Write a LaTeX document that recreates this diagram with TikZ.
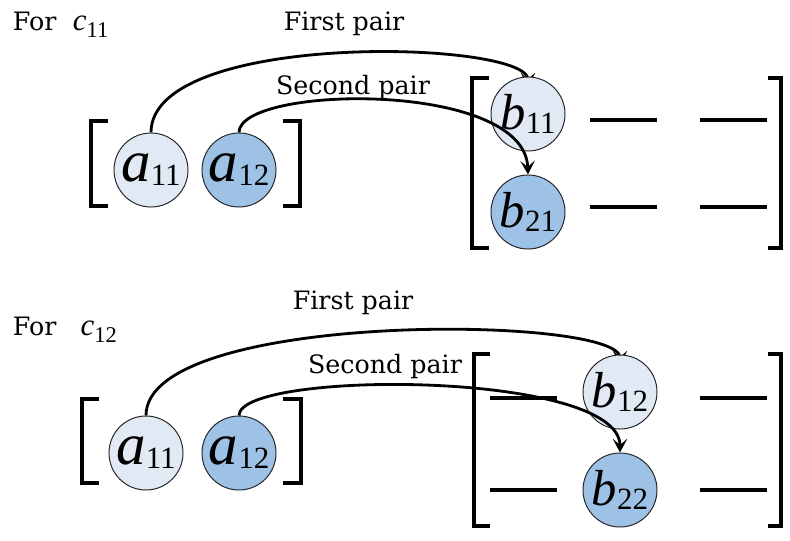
\documentclass[tikz,border=0pt]{standalone}
\usepackage{fontspec}
\usepackage{xcolor}
\usepackage{tikz}
\usetikzlibrary{arrows.meta,positioning,backgrounds}
\newfontfamily\entfont{Liberation Serif}
\newfontfamily\labfont{DejaVu Serif}
\definecolor{balllight}{RGB}{225,233,244}
\definecolor{balldark}{RGB}{157,194,230}
% entry with big italic letter and lowered index
\newcommand{\ent}[4]{{\entfont\fontsize{#3}{#3}\selectfont\itshape #1}\raisebox{-0.28em}{\entfont\fontsize{#4}{#4}\selectfont #2}}

\begin{document}
\begin{tikzpicture}[
    x=0.025cm, y=-0.025cm,
    ball/.style={circle, draw=black!85, line width=0.7pt, minimum size=1.85cm, inner sep=0pt},
    light/.style={ball, fill=balllight},
    dark/.style={ball, fill=balldark},
    label/.style={font=\labfont\fontsize{18}{22}\selectfont},
    brack/.style={line width=2.2pt},
    dashline/.style={line width=2.2pt},
    pair/.style={line width=2pt, -{Stealth[length=3.4mm,width=3.6mm,inset=1.5mm]}}
]
\useasboundingbox (0,0) rectangle (790,540);

% ---- c11
\node[label, anchor=west] (for1) at (8,25) {For\hspace{0.65em}\ent{c}{11}{22}{16}};
\node[light] (a11) at (151,170) {\ent{a}{11}{42}{22}};
\node[dark]  (a12) at (239,170) {\ent{a}{12}{42}{22}};
\node[light] (b11) at (528,114) {\ent{b}{11}{36}{22}};
\node[dark]  (b21) at (528,212) {\ent{b}{21}{36}{22}};
\draw[brack] (108,121) -- (91,121) -- (91,206) -- (108,206);
\draw[brack] (283,121) -- (300,121) -- (300,206) -- (283,206);
\draw[brack] (489,78) -- (472,78) -- (472,248) -- (489,248);
\draw[brack] (768,78) -- (781,78) -- (781,248) -- (768,248);
\foreach \y in {120,207} {
    \draw[dashline] (590,\y) -- (657,\y);
    \draw[dashline] (700,\y) -- (767,\y);
}
\node[label] (first1) at (344,24) {First pair};
\node[label] (second1) at (353,88) {Second pair};
\begin{pgfonlayer}{background}
\draw[pair, shorten >=-2.5mm] (a11.north) .. controls (151,30) and (528,40) .. (b11.north);
\end{pgfonlayer}
\draw[pair] (a12.north) .. controls (239,85) and (525,80) .. (b21.north);

% ---- c12
\node[label, anchor=west] (for2) at (8,330) {For\hspace{0.95em}\ent{c}{12}{22}{16}};
\node[light] (a11b) at (146,453) {\ent{a}{11}{42}{22}};
\node[dark]  (a12b) at (239,453) {\ent{a}{12}{42}{22}};
\node[light] (b12) at (620,392) {\ent{b}{12}{36}{22}};
\node[dark]  (b22) at (620,490) {\ent{b}{22}{36}{22}};
\draw[brack] (99,399) -- (82,399) -- (82,483) -- (99,483);
\draw[brack] (283,399) -- (301,399) -- (301,483) -- (283,483);
\draw[brack] (490,354) -- (474,354) -- (474,526) -- (490,526);
\draw[brack] (768,354) -- (781,354) -- (781,526) -- (768,526);
\foreach \y in {398,490} {
    \draw[dashline] (490,\y) -- (557,\y);
    \draw[dashline] (700,\y) -- (767,\y);
}
\node[label] (first2) at (353,303) {First pair};
\node[label] (second2) at (385,367) {Second pair};
\begin{pgfonlayer}{background}
\draw[pair, shorten >=-2.5mm] (a11b.north) .. controls (146,310) and (620,315) .. (b12.north);
\end{pgfonlayer}
\draw[pair] (a12b.north) .. controls (239,370) and (620,370) .. (b22.north);
\end{tikzpicture}
\end{document}
